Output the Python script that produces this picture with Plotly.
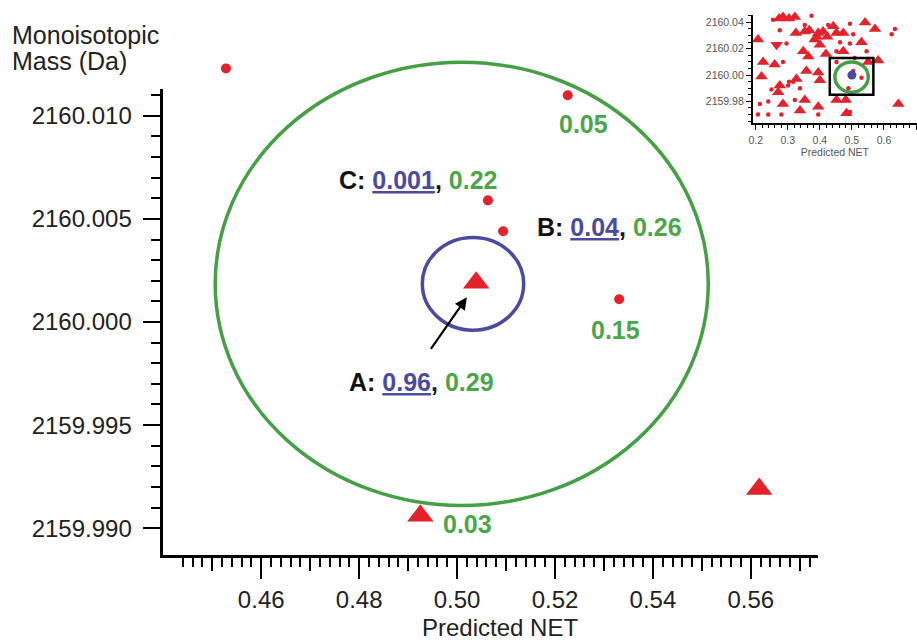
import plotly.graph_objects as go

W, H = 917, 643
FONT = "Liberation Sans, Arial, Helvetica, sans-serif"
RED = "#e3222b"
GREEN = "#45a045"
GREEN_T = "#4ba64b"
BLUE = "#4a4a9f"

# ---------------- main panel data ----------------
dot_net = [0.4528, 0.5226, 0.5063, 0.5094, 0.5331]
dot_mass = [2160.0123, 2160.0110, 2160.0059, 2160.0044, 2160.0011]
tri_net = [0.5039, 0.4925, 0.5617]
tri_mass = [2160.0019, 2159.9906, 2159.9919]

# tolerance ellipses: [net_min, net_max, mass_min, mass_max]
green_tol = [0.4506, 0.5513, 2159.9911, 2160.0126]
blue_tol = [0.4929, 0.5136, 2159.9996, 2160.0041]

# feature labels (letter, blue probability, green probability)
feat_letters = ["C", "B", "A"]
feat_p_blue = ["0.001", "0.04", "0.96"]
feat_p_green = ["0.22", "0.26", "0.29"]
feat_net = [0.4921, 0.5311, 0.4927]
feat_mass = [2160.0069, 2160.0046, 2159.9971]

other_p_green = ["0.05", "0.15", "0.03"]
other_net = [0.5258, 0.5323, 0.5022]
other_mass = [2160.0096, 2159.9996, 2159.9902]

x_major = [0.46, 0.48, 0.50, 0.52, 0.54, 0.56]
x_mid = [0.45, 0.47, 0.49, 0.51, 0.53, 0.55, 0.57]
x_minor = [round(0.444 + 0.002 * i, 3) for i in range(65)]
y_major = [2159.990, 2159.995, 2160.000, 2160.005, 2160.010]
y_minor = [round(2159.991 + 0.001 * i, 3) for i in range(21)]
y_minor = [v for v in y_minor if all(abs(v - m) > 1e-6 for m in y_major)]

# ---------------- inset data ----------------
in_tri_net = [0.273, 0.285, 0.304, 0.322, 0.405, 0.442, 0.541, 0.572, 0.325, 0.353,
              0.367, 0.395, 0.410, 0.452, 0.473, 0.390, 0.423, 0.207, 0.384, 0.400,
              0.530, 0.348, 0.364, 0.419, 0.473, 0.223, 0.259, 0.551, 0.582, 0.358,
              0.395, 0.218, 0.400, 0.327, 0.275, 0.270, 0.285, 0.338, 0.395, 0.452,
              0.481, 0.645, 0.353, 0.483]
in_tri_mass = [2160.043, 2160.044, 2160.043, 2160.044, 2160.046, 2160.037, 2160.040, 2160.035, 2160.032, 2160.033,
               2160.034, 2160.032, 2160.033, 2160.032, 2160.032, 2160.029, 2160.029, 2160.027, 2160.027, 2160.023,
               2160.025, 2160.018, 2160.014, 2160.016, 2160.018, 2160.010, 2160.008, 2160.010, 2160.011, 2160.003,
               2160.002, 2159.999, 2159.996, 2159.997, 2159.992, 2159.987, 2159.978, 2159.973, 2159.976, 2159.981,
               2159.981, 2159.978, 2159.981, 2159.971]
in_down_net = [0.265]
in_down_mass = [2160.023]
in_dot_net = [0.254, 0.374, 0.452, 0.353, 0.426, 0.494, 0.634, 0.275, 0.624, 0.504,
              0.296, 0.463, 0.494, 0.525, 0.452, 0.546, 0.285, 0.509, 0.452, 0.304,
              0.317, 0.301, 0.338, 0.489, 0.249, 0.213, 0.239, 0.322, 0.207, 0.239,
              0.280, 0.395, 0.494, 0.530, 0.504]
in_dot_mass = [2160.042, 2160.045, 2160.047, 2160.038, 2160.038, 2160.039, 2160.035, 2160.034, 2160.031, 2160.031,
               2160.024, 2160.025, 2160.024, 2160.025, 2160.018, 2160.018, 2160.010, 2160.013, 2160.010, 2159.995,
               2159.995, 2159.992, 2159.990, 2159.990, 2159.989, 2159.978, 2159.980, 2159.981, 2159.970, 2159.970,
               2159.970, 2159.970, 2159.972, 2159.998, 2160.003]
in_blue_net = [0.500]
in_blue_mass = [2160.000]
in_ring = [0.447, 0.551, 2159.987, 2160.010]
in_box = [0.431, 0.567, 2159.985, 2160.013]
in_x_ticks = [0.2, 0.3, 0.4, 0.5, 0.6, 0.7]
in_y_ticks = [2159.98, 2160.00, 2160.02, 2160.04]

# ---------------- geometry ----------------
MX = [160 / W, 818 / W]
MY = [1 - 555 / H, 1 - 89 / H]
XR = [0.44, 0.5738]
YR = [2159.9887, 2160.0113]


def full_range(r, d):
    span = (r[1] - r[0]) / (d[1] - d[0])
    return [r[0] - d[0] * span, r[0] + (1 - d[0]) * span]


fig = go.Figure()
# placeholders so the axis subplots exist
fig.add_trace(go.Scatter(x=[], y=[], xaxis="x", yaxis="y", showlegend=False))
fig.add_trace(go.Scatter(x=[], y=[], xaxis="x3", yaxis="y", showlegend=False))

# main data (on a full-page twin scale so nothing is clipped)
fig.add_trace(go.Scatter(x=dot_net, y=dot_mass, mode="markers", xaxis="x2", yaxis="y2",
                         marker=dict(symbol="circle", size=10, color=RED), showlegend=False, cliponaxis=False))
fig.add_trace(go.Scatter(x=tri_net, y=tri_mass, mode="markers", xaxis="x2", yaxis="y2",
                         marker=dict(symbol="triangle-up", size=23, color=RED), showlegend=False, cliponaxis=False))

# inset data
fig.add_trace(go.Scatter(x=in_dot_net, y=in_dot_mass, mode="markers", xaxis="x4", yaxis="y4",
                         marker=dict(symbol="circle", size=4.5, color=RED), showlegend=False, cliponaxis=False))
fig.add_trace(go.Scatter(x=in_tri_net, y=in_tri_mass, mode="markers", xaxis="x4", yaxis="y4",
                         marker=dict(symbol="triangle-up", size=11, color=RED), showlegend=False, cliponaxis=False))
fig.add_trace(go.Scatter(x=in_down_net, y=in_down_mass, mode="markers", xaxis="x4", yaxis="y4",
                         marker=dict(symbol="triangle-down", size=11, color=RED), showlegend=False, cliponaxis=False))
fig.add_trace(go.Scatter(x=in_blue_net, y=in_blue_mass, mode="markers", xaxis="x4", yaxis="y4",
                         marker=dict(symbol="circle", size=9, color=BLUE), showlegend=False, cliponaxis=False))

shapes = [
    dict(type="circle", xref="x2", yref="y2", layer="below",
         x0=green_tol[0], x1=green_tol[1], y0=green_tol[2], y1=green_tol[3],
         line=dict(color=GREEN, width=3.5)),
    dict(type="circle", xref="x2", yref="y2", layer="below",
         x0=blue_tol[0], x1=blue_tol[1], y0=blue_tol[2], y1=blue_tol[3],
         line=dict(color=BLUE, width=3.5)),
    dict(type="circle", xref="x4", yref="y4", layer="below",
         x0=in_ring[0], x1=in_ring[1], y0=in_ring[2], y1=in_ring[3],
         line=dict(color=GREEN, width=3.5)),
    dict(type="rect", xref="x4", yref="y4", layer="above",
         x0=in_box[0], x1=in_box[1], y0=in_box[2], y1=in_box[3],
         line=dict(color="black", width=2.5)),
]

annotations = []
for L, pb, pg, xn, ym in zip(feat_letters, feat_p_blue, feat_p_green, feat_net, feat_mass):
    annotations.append(dict(
        xref="x2", yref="y2", x=xn, y=ym, showarrow=False, xanchor="center", yanchor="middle",
        text=f"<b>{L}: <span style='color:{BLUE}'><u>{pb}</u></span>, <span style='color:{GREEN_T}'>{pg}</span></b>",
        font=dict(family=FONT, size=25, color="#111")))
for pg, xn, ym in zip(other_p_green, other_net, other_mass):
    annotations.append(dict(
        xref="x2", yref="y2", x=xn, y=ym, showarrow=False, xanchor="center", yanchor="middle",
        text=f"<b>{pg}</b>", font=dict(family=FONT, size=25, color=GREEN_T)))
# arrow pointing at feature A
annotations.append(dict(xref="x2", yref="y2", x=0.5020, y=2160.0012, ax=-37, ay=53, text="",
                        showarrow=True, arrowhead=2, arrowsize=1.1, arrowwidth=2.2, arrowcolor="black"))
# axis titles
annotations.append(dict(xref="paper", yref="paper", x=6 / W, y=1 - 35 / H, xanchor="left", yanchor="middle",
                        text="Monoisotopic", showarrow=False, font=dict(family=FONT, size=25, color="#222")))
annotations.append(dict(xref="paper", yref="paper", x=6 / W, y=1 - 61 / H, xanchor="left", yanchor="middle",
                        text="Mass (Da)", showarrow=False, font=dict(family=FONT, size=25, color="#222")))
annotations.append(dict(xref="paper", yref="paper", x=498 / W, y=0, xanchor="center", yanchor="bottom",
                        text="Predicted NET", showarrow=False, font=dict(family=FONT, size=24, color="#222")))

tick_font = dict(family=FONT, size=24, color="#222")
in_font = dict(family=FONT, size=10.5, color="#555")

fig.update_layout(
    width=W, height=H, margin=dict(l=0, r=0, t=0, b=0),
    paper_bgcolor="white", plot_bgcolor="rgba(0,0,0,0)",
    showlegend=False, shapes=shapes, annotations=annotations,
    xaxis=dict(domain=MX, range=XR, anchor="y", showline=True, linecolor="black", linewidth=2.5,
               showgrid=False, zeroline=False, tickmode="array", tickvals=x_major,
               ticktext=[f"{v:.2f}" for v in x_major], ticks="outside", ticklen=21, tickwidth=2,
               tickcolor="black", tickfont=tick_font, ticklabelstandoff=0,
               minor=dict(tickmode="array", tickvals=x_minor, ticks="outside", ticklen=9,
                          tickwidth=1.8, tickcolor="black", showgrid=False)),
    xaxis3=dict(overlaying="x", anchor="y", range=XR, showline=False, showgrid=False, zeroline=False,
                tickmode="array", tickvals=x_mid, ticks="outside", ticklen=15, tickwidth=2,
                tickcolor="black", showticklabels=False),
    yaxis=dict(domain=MY, range=YR, anchor="x", showline=True, linecolor="black", linewidth=2.5,
               showgrid=False, zeroline=False, tickmode="array", tickvals=y_major,
               ticktext=[f"{v:.3f}" for v in y_major], ticks="outside", ticklen=18, tickwidth=2,
               tickcolor="black", tickfont=tick_font, ticklabelstandoff=6,
               minor=dict(tickmode="array", tickvals=y_minor, ticks="outside", ticklen=10,
                          tickwidth=2, tickcolor="black", showgrid=False)),
    xaxis2=dict(domain=[0, 1], range=full_range(XR, MX), anchor="y2", visible=False),
    yaxis2=dict(domain=[0, 1], range=full_range(YR, MY), anchor="x2", visible=False),
    xaxis4=dict(domain=[752 / W, 1.0], range=[0.1906, 0.7031], anchor="y4", showline=True,
                linecolor="black", linewidth=1.6, showgrid=False, zeroline=False, tickmode="array",
                tickvals=in_x_ticks, ticktext=[f"{v:.1f}" for v in in_x_ticks], ticks="outside",
                ticklen=5, tickwidth=1.2, tickcolor="black", tickfont=in_font, ticklabelstandoff=2,
                minor=dict(dtick=0.02, tick0=0, ticks="outside", ticklen=3, tickwidth=1, tickcolor="black"),
                title=dict(text="Predicted NET", font=in_font, standoff=1)),
    yaxis4=dict(domain=[1 - 123 / H, 1 - 15 / H], range=[2159.9636, 2160.0456], anchor="x4",
                showline=True, linecolor="black", linewidth=1.6, showgrid=False, zeroline=False,
                tickmode="array", tickvals=in_y_ticks, ticktext=[f"{v:.2f}" for v in in_y_ticks],
                ticks="outside", ticklen=5, tickwidth=1.2, tickcolor="black", tickfont=in_font,
                minor=dict(dtick=0.005, tick0=2160.0, ticks="outside", ticklen=3, tickwidth=1,
                           tickcolor="black")),
)

fig.write_html("out.html", config={"displayModeBar": False},
               post_script="document.body.style.margin='0';document.body.style.overflow='hidden';")
